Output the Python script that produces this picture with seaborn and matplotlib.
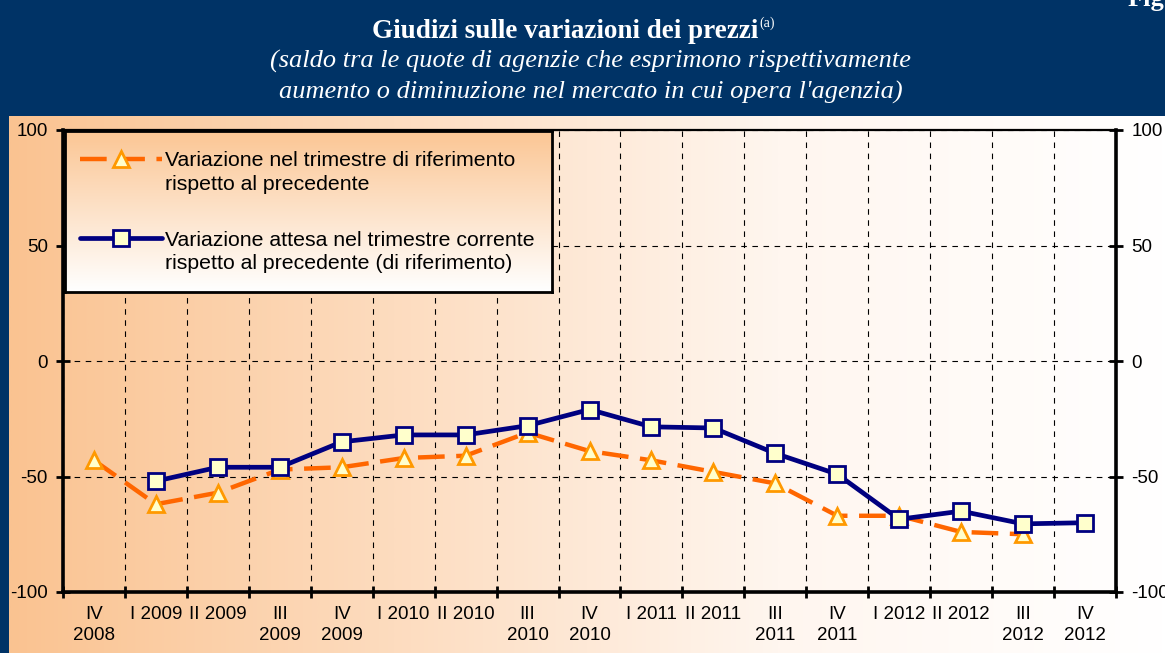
import numpy as np
import pandas as pd
import matplotlib
matplotlib.use("Agg")
import matplotlib.pyplot as plt
import seaborn as sns
from matplotlib.colors import LinearSegmentedColormap

# ---------------- data ----------------
categories = ["IV\n2008", "I 2009", "II 2009", "III\n2009", "IV\n2009", "I 2010",
              "II 2010", "III\n2010", "IV\n2010", "I 2011", "II 2011", "III\n2011",
              "IV\n2011", "I 2012", "II 2012", "III\n2012", "IV\n2012"]
reference_change = [-43, -62, -57, -47, -46, -42, -41, -31, -39, -43, -48, -53,
                    -67, -67, -74, -75, np.nan]
expected_change = [np.nan, -52, -46, -46, -35, -32, -32, -28, -21, -28.5, -29, -40,
                   -49, -68.5, -65, -70.5, -70]
label_reference = "Variazione nel trimestre di riferimento\nrispetto al precedente"
label_expected = "Variazione attesa nel trimestre corrente\nrispetto al precedente (di riferimento)"
y_ticks = [-100, -50, 0, 50, 100]

title = "Giudizi sulle variazioni dei prezzi"
title_sup = "(a)"
subtitle1 = "(saldo tra le quote di agenzie che esprimono rispettivamente"
subtitle2 = "aumento o diminuzione nel mercato in cui opera l'agenzia)"

# ---------------- style ----------------
sns.set_theme(style="white")
plt.rcParams["font.family"] = ["Liberation Sans", "DejaVu Sans"]

W, H = 1165, 653
NAVY_BG = "#003366"
fig = plt.figure(figsize=(W / 100, H / 100), dpi=100, facecolor=NAVY_BG)


def px(x0, y0, x1, y1):
    return [x0 / W, 1 - y1 / H, (x1 - x0) / W, (y1 - y0) / H]


# panel with horizontal gradient
bg = fig.add_axes(px(9, 116, 1165, 653))
bg.axis("off")
hgrad = np.linspace(0, 1, 512).reshape(1, -1)
cmap_h = LinearSegmentedColormap.from_list("h", ["#FAC391", "#FDDCBF", "#FFF6EF", "#FFFFFF"])
bg.imshow(hgrad, aspect="auto", cmap=cmap_h, extent=[0, 1, 0, 1])

# main axes
ax = fig.add_axes(px(63, 130, 1116, 592))
ax.patch.set_alpha(0)

df = pd.DataFrame({"pos": np.arange(len(categories)),
                   "ref": reference_change,
                   "exp": expected_change})

sns.lineplot(data=df, x="pos", y="ref", ax=ax, color="#FF6600", linewidth=3.2,
             linestyle=(0, (6, 2.6)), marker="^", markersize=12,
             markerfacecolor="#FFFFCC", markeredgecolor="#FF9900",
             markeredgewidth=2, label=label_reference, zorder=3)
sns.lineplot(data=df, x="pos", y="exp", ax=ax, color="#000080", linewidth=3.4,
             marker="s", markersize=11, markerfacecolor="#FFFFCC",
             markeredgecolor="#000080", markeredgewidth=2,
             label=label_expected, zorder=4)

ax.set_xlim(-0.5, len(categories) - 0.5)
ax.set_ylim(-100, 100)
ax.set_xlabel("")
ax.set_ylabel("")

ax.set_xticks(np.arange(len(categories)))
ax.set_xticklabels(categories)
ax.set_xticks(np.arange(-0.5, len(categories), 1), minor=True)
ax.tick_params(axis="x", which="major", length=0, pad=10, labelsize=13.5,
               labelcolor="black")
ax.tick_params(axis="x", which="minor", bottom=True, length=9, width=2,
               direction="inout", color="black")
for t in ax.get_xticklabels():
    t.set_linespacing(1.3)

ax.set_yticks(y_ticks)
ax.set_yticklabels([str(v) for v in y_ticks])
ax.tick_params(axis="y", which="major", left=True, right=True, labelleft=True,
               labelright=True, length=10, width=2, direction="inout",
               color="black", labelsize=13.5, labelcolor="black", pad=6)

ax.grid(False)
ax.grid(axis="x", which="minor", color="black", linestyle=(0, (5, 5)), linewidth=0.8)
ax.grid(axis="y", which="major", color="black", linestyle=(0, (5, 5)), linewidth=0.8)

for side in ["left", "right", "bottom"]:
    ax.spines[side].set_visible(True)
    ax.spines[side].set_color("black")
    ax.spines[side].set_linewidth(2.6)
ax.spines["top"].set_visible(True)
ax.spines["top"].set_color("black")
ax.spines["top"].set_linewidth(1.6)

handles, labels = ax.get_legend_handles_labels()
if ax.get_legend() is not None:
    ax.get_legend().remove()

# legend box with vertical gradient
lax = fig.add_axes(px(65, 131, 552, 292))
lax.set_zorder(ax.get_zorder() + 1)
vgrad = np.linspace(0, 1, 256).reshape(-1, 1)
cmap_v = LinearSegmentedColormap.from_list("v", ["#FBC694", "#FFFFFF"])
lax.imshow(vgrad, aspect="auto", cmap=cmap_v, extent=[0, 1, 0, 1])
lax.set_xticks([])
lax.set_yticks([])
for s in lax.spines.values():
    s.set_visible(True)
    s.set_color("black")
    s.set_linewidth(2)
leg = lax.legend(handles, labels, loc="upper left", frameon=False, fontsize=15.3,
                 handlelength=3.85, handletextpad=0.14, labelspacing=1.75,
                 borderaxespad=0.0, bbox_to_anchor=(0.0133, 0.927),
                 labelcolor="black")
for t in leg.get_texts():
    t.set_linespacing(1.3)
# align handles with the first line of each label
try:
    for col in leg._legend_handle_box.get_children():
        for item in col.get_children():
            item.align = "top"
except Exception:
    pass

# ---------------- titles ----------------
tt = fig.text(0.5, 1 - 31 / H, title, color="white", fontsize=19.5, fontweight="bold",
              family="Liberation Serif", ha="center", va="center")
fig.canvas.draw()
bb = tt.get_window_extent()
shift = 17 / W
tt.set_x(0.5 - shift)
fig.text(0.5 - shift + bb.width / 2 / W + 1 / W, 1 - 23 / H, title_sup, color="white",
         fontsize=10, family="Liberation Serif", ha="left", va="center")
fig.text(590 / W, 1 - 61 / H, subtitle1, color="white", fontsize=19,
         style="italic", family="Liberation Serif", ha="center", va="center")
fig.text(591 / W, 1 - 92 / H, subtitle2, color="white", fontsize=19,
         style="italic", family="Liberation Serif", ha="center", va="center")
fig.text(1128 / W, 1 - 6 / H, "Fig.", color="white", fontsize=19, fontweight="bold",
         family="Liberation Serif", ha="left", va="baseline")

fig.savefig("out.png", dpi=100, facecolor=NAVY_BG)
